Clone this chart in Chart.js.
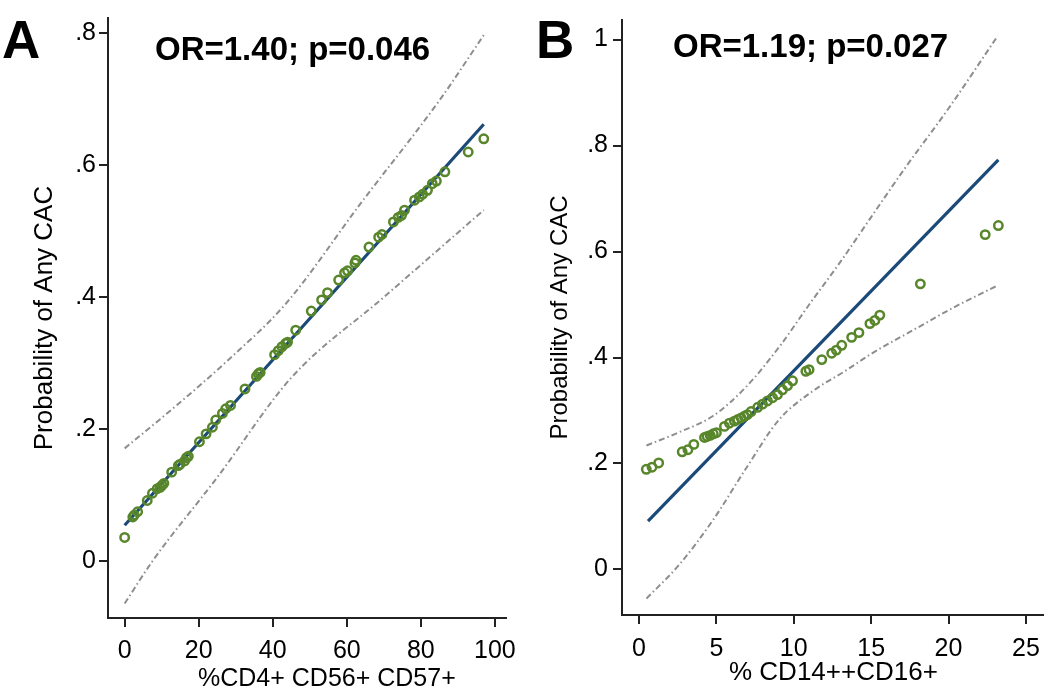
<!DOCTYPE html>
<html>
<head>
<meta charset="utf-8">
<script src="https://cdn.jsdelivr.net/npm/chart.js@4"></script>
<style>
body { margin: 0; background: #fff; overflow: hidden; width: 1050px; height: 688px; position: relative; }
canvas { position: absolute; top: 0; }
#chartA { left: 0; }
#chartB { left: 525px; }
.lbl { position: absolute; font-family: Arial, "Liberation Sans", sans-serif; font-weight: bold; line-height: 1; white-space: nowrap; color: #000; }
.axt { position: absolute; font-family: Arial, "Liberation Sans", sans-serif; line-height: 1; white-space: nowrap; color: #000; }
</style>
</head>
<body>
<canvas id="chartA" width="525" height="700"></canvas>
<canvas id="chartB" width="525" height="700"></canvas>
<div class="lbl" style="left:2px; top:13px; font-size:53px;">A</div>
<div class="lbl" style="left:536px; top:13px; font-size:53px;">B</div>
<div class="lbl" style="left:155px; top:32px; font-size:33px;">OR=1.40; p=0.046</div>
<div class="lbl" style="left:673px; top:29px; font-size:33px;">OR=1.19; p=0.027</div>
<div class="axt" style="left:198px; top:665px; font-size:25px;">%CD4+ CD56+ CD57+</div>
<div class="axt" style="left:729px; top:658px; font-size:26px;">% CD14++CD16+</div>
<script>
// panel A: %CD4+ CD56+ CD57+
const aPointX = [0, 2.2, 2.6, 3.5, 6.1, 7.5, 8.8, 9.6, 10.1, 10.6, 12.7, 14.5, 15.0, 16.2, 16.7, 17.2,
  20.2, 22.0, 23.7, 24.6, 26.4, 27.3, 28.6, 32.5, 35.6, 36.1, 36.6, 40.5, 41.5, 42.5, 43.5, 44.0,
  46.2, 50.4, 53.2, 54.8, 57.8, 59.4, 60.2, 62.2, 62.5, 66.0, 68.6, 69.5, 72.6, 73.9, 74.8, 75.6,
  78.3, 79.6, 80.5, 81.8, 83.1, 84.2, 86.5, 92.8, 97.0];
const aPointY = [0.036, 0.067, 0.070, 0.075, 0.092, 0.103, 0.110, 0.112, 0.115, 0.118, 0.135, 0.145, 0.147, 0.152, 0.157, 0.159,
  0.181, 0.193, 0.203, 0.214, 0.224, 0.231, 0.236, 0.261, 0.280, 0.284, 0.286, 0.313, 0.319, 0.325, 0.330, 0.332,
  0.350, 0.379, 0.396, 0.407, 0.426, 0.437, 0.440, 0.452, 0.456, 0.476, 0.491, 0.495, 0.514, 0.521, 0.524, 0.532,
  0.547, 0.552, 0.556, 0.562, 0.572, 0.576, 0.590, 0.620, 0.640];
const aFitX = [0, 97];
const aFitY = [0.0545, 0.662];
const aUpperX = [0, 14, 28, 43.5, 64, 85, 97];
const aUpperY = [0.171, 0.236, 0.305, 0.390, 0.544, 0.698, 0.797];
const aLowerX = [0, 7.5, 25, 45, 70, 97];
const aLowerY = [-0.064, 0.0, 0.127, 0.278, 0.400, 0.532];
const aXTicks = [0, 20, 40, 60, 80, 100];
const aYTicks = [0, 0.2, 0.4, 0.6, 0.8];

// panel B: % CD14++CD16+
const bPointX = [0.47, 0.84, 1.27, 2.79, 3.16, 3.54, 4.23, 4.4, 4.6, 4.8, 5.0, 5.52, 5.84, 6.16, 6.38, 6.6,
  6.8, 7.0, 7.24, 7.67, 7.98, 8.3, 8.63, 8.95, 9.27, 9.6, 9.92, 10.78, 10.99, 11.81, 12.45, 12.75,
  13.1, 13.74, 14.21, 14.92, 15.24, 15.56, 18.18, 22.37, 23.22];
const bPointY = [0.189, 0.193, 0.201, 0.222, 0.226, 0.236, 0.249, 0.251, 0.253, 0.256, 0.258, 0.270, 0.276, 0.280, 0.283, 0.286,
  0.289, 0.292, 0.298, 0.306, 0.312, 0.318, 0.324, 0.330, 0.339, 0.347, 0.356, 0.374, 0.377, 0.396, 0.408, 0.414,
  0.423, 0.438, 0.447, 0.464, 0.470, 0.480, 0.539, 0.632, 0.649];
const bFitX = [0.58, 23.22];
const bFitY = [0.091, 0.773];
const bUpperX = [0.48, 2.6, 4.8, 6.9, 9.06, 11, 13, 15, 17.2, 20, 23.18];
const bUpperY = [0.234, 0.259, 0.290, 0.344, 0.420, 0.500, 0.580, 0.665, 0.758, 0.870, 1.007];
const bLowerX = [0.48, 2.6, 4.8, 6.9, 9.06, 11.2, 13.4, 14.9, 18.1, 20.5, 23.18];
const bLowerY = [-0.055, 0.009, 0.094, 0.190, 0.283, 0.336, 0.376, 0.405, 0.458, 0.497, 0.536];
const bXTicks = [0, 5, 10, 15, 20, 25];
const bYTicks = [0, 0.2, 0.4, 0.6, 0.8, 1];

const fontFam = 'Arial, "Liberation Sans", sans-serif';
const green = '#58862a';
const navy = '#1b4a78';
const ciGray = '#8e8e8e';

function pairs(xs, ys) {
  return xs.map(function(x, i) { return {x: x, y: ys[i]}; });
}

function fmtProb(v) {
  if (v === 0) return '0';
  if (v === 1) return '1';
  return String(v).replace(/^0/, '');
}

function makePanel(id, p) {
  const ctx = document.getElementById(id);
  return new Chart(ctx, {
    type: 'scatter',
    data: {
      datasets: [
        {
          data: pairs(p.pointX, p.pointY),
          pointRadius: 4.2,
          pointBorderWidth: 2.5,
          pointBorderColor: green,
          pointBackgroundColor: 'rgba(0,0,0,0)',
          showLine: false
        },
        {
          data: pairs(p.fitX, p.fitY),
          showLine: true,
          borderColor: navy,
          borderWidth: 3.2,
          pointRadius: 0,
          tension: 0
        },
        {
          data: pairs(p.upperX, p.upperY),
          showLine: true,
          borderColor: ciGray,
          borderWidth: 2,
          borderDash: [6, 3, 1.5, 3],
          pointRadius: 0,
          cubicInterpolationMode: 'monotone'
        },
        {
          data: pairs(p.lowerX, p.lowerY),
          showLine: true,
          borderColor: ciGray,
          borderWidth: 2,
          borderDash: [6, 3, 1.5, 3],
          pointRadius: 0,
          cubicInterpolationMode: 'monotone'
        }
      ]
    },
    options: {
      responsive: false,
      animation: false,
      layout: { autoPadding: false, padding: { top: p.padTop, right: p.padRight, left: 0, bottom: 0 } },
      plugins: { legend: { display: false }, tooltip: { enabled: false } },
      scales: {
        x: {
          type: 'linear',
          min: p.xMin,
          max: p.xMax,
          afterBuildTicks: function(s) { s.ticks = p.xTicks.map(function(v) { return {value: v}; }); },
          afterFit: function(s) { s.height = p.xAxisH; },
          ticks: { color: '#000', font: { family: fontFam, size: 25 }, padding: p.xTickPad, maxRotation: 0, autoSkip: false },
          grid: { drawOnChartArea: false, drawTicks: true, tickLength: 9, color: '#222', lineWidth: 2 },
          border: { display: true, color: '#222', width: 2 },
          title: { display: false }
        },
        y: {
          type: 'linear',
          min: p.yMin,
          max: p.yMax,
          afterBuildTicks: function(s) { s.ticks = p.yTicks.map(function(v) { return {value: v}; }); },
          afterFit: function(s) { s.width = p.yAxisW; },
          ticks: { color: '#000', font: { family: fontFam, size: 25 }, padding: p.yTickPad, callback: fmtProb },
          grid: { drawOnChartArea: false, drawTicks: true, tickLength: 9, color: '#222', lineWidth: 2 },
          border: { display: true, color: '#222', width: 2 },
          title: { display: true, text: 'Probability of Any CAC', color: '#000', font: { family: fontFam, size: p.yTitleSize }, padding: { top: p.yTitlePad, bottom: 0 } }
        }
      }
    }
  });
}

makePanel('chartA', {
  pointX: aPointX, pointY: aPointY, fitX: aFitX, fitY: aFitY,
  upperX: aUpperX, upperY: aUpperY, lowerX: aLowerX, lowerY: aLowerY,
  xTicks: aXTicks, yTicks: aYTicks,
  xMin: -4.5, xMax: 103, yMin: -0.086, yMax: 0.823,
  padTop: 18, padRight: 10, xAxisH: 82, yAxisW: 108,
  xTickPad: 9, yTickPad: 3,
  yTitleSize: 26, yTitlePad: 29
});

makePanel('chartB', {
  pointX: bPointX, pointY: bPointY, fitX: bFitX, fitY: bFitY,
  upperX: bUpperX, upperY: bUpperY, lowerX: bLowerX, lowerY: bLowerY,
  xTicks: bXTicks, yTicks: bYTicks,
  xMin: -1.1, xMax: 26.1, yMin: -0.086, yMax: 1.037,
  padTop: 0, padRight: 5, xAxisH: 85, yAxisW: 97,
  xTickPad: 10, yTickPad: 5,
  yTitleSize: 24, yTitlePad: 21
});
</script>
</body>
</html>
